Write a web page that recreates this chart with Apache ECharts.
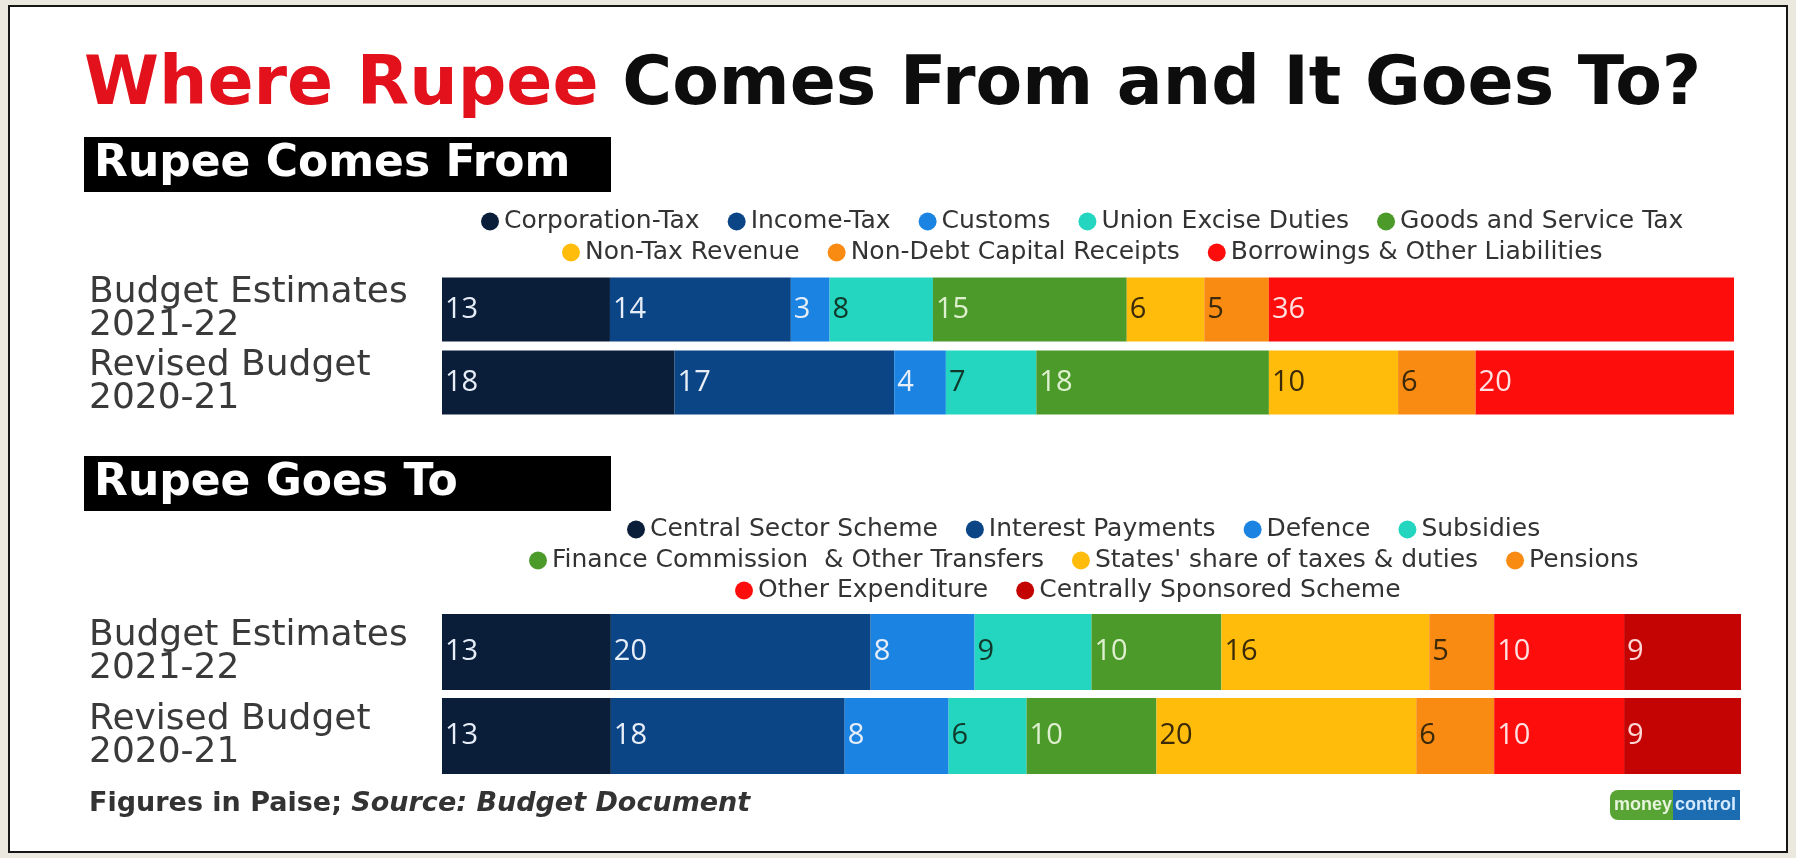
<!DOCTYPE html>
<html>
<head>
<meta charset="utf-8">
<title>Where Rupee Comes From and It Goes To?</title>
<script src="https://cdn.jsdelivr.net/npm/echarts@6.0.0/dist/echarts.min.js"></script>
<style>
html, body { margin: 0; padding: 0; background: #ebe8e0; }
#main { width: 1796px; height: 858px; }
</style>
</head>
<body>
<div id="main"></div>
<script>
// rows of both bar blocks
const rows = ['Budget Estimates\n2021-22', 'Revised Budget\n2020-21'];

// Rupee comes from (paise)
const comesFromNames = ['Corporation-Tax', 'Income-Tax', 'Customs', 'Union Excise Duties', 'Goods and Service Tax',
  'Non-Tax Revenue', 'Non-Debt Capital Receipts', 'Borrowings & Other Liabilities'];
const comesFromBE = [13, 14, 3, 8, 15, 6, 5, 36];
const comesFromRB = [18, 17, 4, 7, 18, 10, 6, 20];

// Rupee goes to (paise)
const goesToNames = ['Central Sector Scheme', 'Interest Payments', 'Defence', 'Subsidies',
  'Finance Commission  & Other Transfers', "States' share of taxes & duties", 'Pensions',
  'Other Expenditure', 'Centrally Sponsored Scheme'];
const goesToBE = [13, 20, 8, 9, 10, 16, 5, 10, 9];
const goesToRB = [13, 18, 8, 6, 10, 20, 6, 10, 9];

const comesFromColors = ['#0a1e3a', '#0b4585', '#1b84e2', '#24d6bf', '#4c9a2a', '#ffbc0a', '#f98a12', '#fe0d0d'];
const comesFromText = ['#e8eef8', '#e8eef8', '#e8eef8', '#10392c', '#dff0d0', '#3a2a0a', '#3a2a0a', '#ffe0e0'];
const goesToColors = ['#0a1e3a', '#0b4585', '#1b84e2', '#24d6bf', '#4c9a2a', '#ffbc0a', '#f98a12', '#fe0d0d', '#c40303'];
const goesToText = ['#e8eef8', '#e8eef8', '#e8eef8', '#10392c', '#dff0d0', '#3a2a0a', '#3a2a0a', '#ffe0e0', '#ffd6d6'];

const legendFont = 25;
const legendFamily = 'DejaVu Sans';
const iconSize = 18;
const legendGap = 28;

const chart = echarts.init(document.getElementById('main'));

// legends rows are centred on the bars, not on the page
const measureCtx = document.createElement('canvas').getContext('2d');
measureCtx.font = legendFont + 'px "' + legendFamily + '"';
function legendRow(names, center, top) {
  let w = 0;
  names.forEach((n, i) => {
    w += iconSize + 5 + measureCtx.measureText(n).width;
    if (i > 0) w += legendGap;
  });
  return {
    data: names,
    left: Math.round(center - w / 2),
    top: top,
    padding: 0,
    icon: 'circle',
    itemWidth: iconSize,
    itemHeight: iconSize,
    itemGap: legendGap,
    textStyle: { fontSize: legendFont, fontFamily: legendFamily, color: '#333' }
  };
}

function makeSeries(names, be, rb, colors, textColors, stack, axis, barWidth) {
  return names.map((name, i) => ({
    name: name,
    type: 'bar',
    stack: stack,
    xAxisIndex: axis,
    yAxisIndex: axis,
    barWidth: barWidth,
    data: [be[i], rb[i]],
    itemStyle: { color: colors[i] },
    emphasis: { disabled: true },
    label: {
      show: true,
      position: 'insideLeft',
      distance: 3,
      color: textColors[i],
      fontSize: 29,
      fontFamily: 'Open Sans'
    }
  }));
}

function yAxis(gridIndex) {
  return {
    type: 'category',
    gridIndex: gridIndex,
    data: rows,
    inverse: true,
    axisLine: { show: false },
    axisTick: { show: false },
    splitLine: { show: false },
    axisLabel: {
      align: 'left',
      margin: 353,
      fontSize: 36,
      lineHeight: 33,
      fontFamily: 'DejaVu Sans',
      color: '#3a3a3a'
    }
  };
}

const option = {
  animation: false,
  backgroundColor: 'transparent',
  graphic: [
    { type: 'rect', z: 0, shape: { x: 9, y: 6, width: 1778, height: 846 },
      style: { fill: '#ffffff', stroke: '#161616', lineWidth: 2 } },
    { type: 'rect', z: 1, shape: { x: 84, y: 137, width: 527, height: 55 }, style: { fill: '#000' } },
    { type: 'rect', z: 1, shape: { x: 84, y: 456, width: 527, height: 55 }, style: { fill: '#000' } }
  ],
  title: [
    {
      text: '{r|Where Rupee }{k|Comes From and It Goes To?}',
      left: 84,
      top: 46,
      padding: 0,
      textStyle: {
        rich: {
          r: { color: '#e3111b', fontSize: 68, fontWeight: 'bold', fontFamily: 'DejaVu Sans', lineHeight: 80 },
          k: { color: '#0d0d0d', fontSize: 68, fontWeight: 'bold', fontFamily: 'DejaVu Sans', lineHeight: 80 }
        }
      }
    },
    {
      text: 'Rupee Comes From',
      left: 94,
      top: 137,
      padding: 0,
      textStyle: { color: '#fff', fontSize: 44, fontWeight: 'bold', fontFamily: 'DejaVu Sans', lineHeight: 55 }
    },
    {
      text: 'Rupee Goes To',
      left: 94,
      top: 456,
      padding: 0,
      textStyle: { color: '#fff', fontSize: 44, fontWeight: 'bold', fontFamily: 'DejaVu Sans', lineHeight: 55 }
    },
    {
      text: '{a|Figures in Paise; }{b|Source: Budget Document}',
      left: 89,
      top: 788,
      padding: 0,
      textStyle: {
        rich: {
          a: { color: '#333', fontSize: 27, fontWeight: 'bold', fontFamily: 'DejaVu Sans', lineHeight: 32 },
          b: { color: '#333', fontSize: 27, fontWeight: 'bold', fontStyle: 'italic', fontFamily: 'DejaVu Sans', lineHeight: 32 }
        }
      }
    },
    {
      text: '{m|money}{c|control}',
      right: 56,
      top: 790,
      padding: 0,
      textStyle: {
        rich: {
          m: { backgroundColor: '#57a334', color: '#e6f4dc', fontSize: 18, fontWeight: 'bold',
            fontFamily: 'Liberation Sans', padding: [6, 1, 6, 4], borderRadius: [8, 0, 0, 8] },
          c: { backgroundColor: '#1c6cb2', color: '#d4eaff', fontSize: 18, fontWeight: 'bold',
            fontFamily: 'Liberation Sans', padding: [6, 4, 6, 2] }
        }
      }
    }
  ],
  legend: [
    legendRow(comesFromNames.slice(0, 5), 1082, 209),
    legendRow(comesFromNames.slice(5), 1082, 240),
    legendRow(goesToNames.slice(0, 4), 1084, 517),
    legendRow(goesToNames.slice(4, 7), 1084, 548),
    legendRow(goesToNames.slice(7), 1068, 578)
  ],
  grid: [
    { left: 442, right: 62, top: 273, height: 146 },
    { left: 442, right: 55, top: 610, height: 168 }
  ],
  xAxis: [
    { type: 'value', gridIndex: 0, min: 0, max: 100, show: false },
    { type: 'value', gridIndex: 1, min: 0, max: 100, show: false }
  ],
  yAxis: [yAxis(0), yAxis(1)],
  series: makeSeries(comesFromNames, comesFromBE, comesFromRB, comesFromColors, comesFromText, 'from', 0, 64)
    .concat(makeSeries(goesToNames, goesToBE, goesToRB, goesToColors, goesToText, 'to', 1, 76))
};

chart.setOption(option);
window.addEventListener('resize', () => chart.resize());
</script>
</body>
</html>
